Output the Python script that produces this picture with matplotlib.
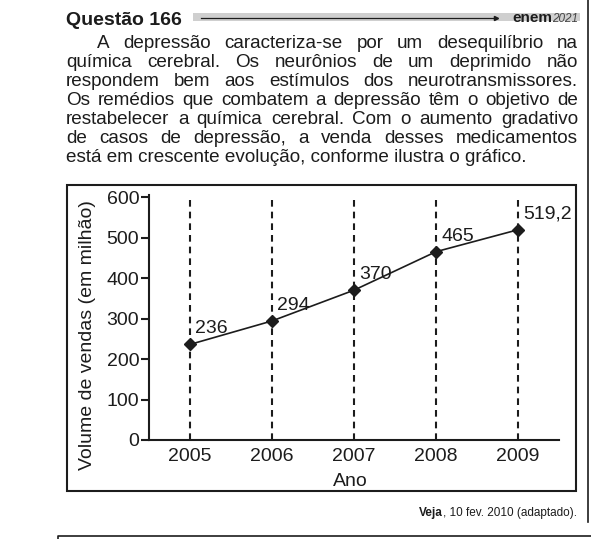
import matplotlib
matplotlib.use("Agg")
import matplotlib.pyplot as plt
from matplotlib.patches import Rectangle
from matplotlib.lines import Line2D

plt.rcParams['font.family'] = ['Liberation Sans', 'DejaVu Sans']

# -----------------------------------------------------------------------------
# Dados
# -----------------------------------------------------------------------------
anos = [2005, 2006, 2007, 2008, 2009]
vendas = [236, 294, 370, 465, 519.2]
rotulos = ["236", "294", "370", "465", "519,2"]
yticks = [0, 100, 200, 300, 400, 500, 600]

titulo = "Questão 166"
texto = [
    "A depressão caracteriza-se por um desequilíbrio na",
    "química cerebral. Os neurônios de um deprimido não",
    "respondem bem aos estímulos dos neurotransmissores.",
    "Os remédios que combatem a depressão têm o objetivo de",
    "restabelecer a química cerebral. Com o aumento gradativo",
    "de casos de depressão, a venda desses medicamentos",
    "está em crescente evolução, conforme ilustra o gráfico.",
]
fonte_bold = "Veja"
fonte_resto = ", 10 fev. 2010 (adaptado)."

INK = "#1c1c1c"
FS_TXT = 13.6
W, H = 591, 539
fig = plt.figure(figsize=(W / 100, H / 100), dpi=100)
renderer = fig.canvas.get_renderer()


def fx(px):
    return px / W


def fy(py):
    return 1 - py / H


def largura(s, **kw):
    t = fig.text(0, 0, s, **kw)
    w = t.get_window_extent(renderer).width
    t.remove()
    return w


# =========================
# Cabeçalho
# =========================
fig.text(fx(66), fy(25), titulo, fontsize=14, fontweight="bold",
         color=INK, va="baseline")
x_band = 66 + largura(titulo, fontsize=14, fontweight="bold") + 11
fig.patches.append(Rectangle((fx(x_band), fy(21)), fx(580) - fx(x_band), 8 / H,
                             transform=fig.transFigure, facecolor="#cfcfcf",
                             edgecolor="none"))
fig.lines.append(Line2D([fx(x_band + 8), fx(496)], [fy(18), fy(18)],
                        transform=fig.transFigure, color=INK, lw=0.9))
fig.lines.append(Line2D([fx(496)], [fy(18)], transform=fig.transFigure,
                        marker=">", ms=3, color=INK, lw=0))
w2021 = largura("2021", fontsize=8.5, fontstyle="italic")
fig.text(fx(578), fy(22), "2021", fontsize=8.5, fontstyle="italic",
         color="#444444", ha="right", va="baseline")
fig.text(fx(578 - w2021), fy(22), "enem", fontsize=11, fontweight="bold",
         color=INK, ha="right", va="baseline")

# =========================
# Texto justificado
# =========================
esq, dir_ = 66, 578
base0, passo = 48, 19.0
for i, linha in enumerate(texto):
    yb = base0 + i * passo
    x0 = esq + (31 if i == 0 else 0)
    if i == len(texto) - 1:
        fig.text(fx(x0), fy(yb), linha, fontsize=FS_TXT, color=INK, va="baseline")
        continue
    palavras = linha.split(" ")
    larg = [largura(p, fontsize=FS_TXT) for p in palavras]
    gap = (dir_ - x0 - sum(larg)) / (len(palavras) - 1)
    x = x0
    for p, w in zip(palavras, larg):
        fig.text(fx(x), fy(yb), p, fontsize=FS_TXT, color=INK, va="baseline")
        x += w + gap

# =========================
# Quadro do gráfico
# =========================
fig.patches.append(Rectangle((fx(67), fy(491)), (576 - 67) / W, (491 - 185) / H,
                             transform=fig.transFigure, fill=False,
                             edgecolor=INK, lw=1.5))

ax = fig.add_axes([fx(149), fy(440), (559 - 149) / W, (440 - 195) / H])
ax.set_xlim(2004.5, 2009.5)
ax.set_ylim(0, 605)
ax.patch.set_alpha(0)

ax.vlines(anos, 0, 605, colors=INK, linestyles=(0, (3.2, 2.4)), linewidth=1.5)
ax.plot(anos, vendas, color=INK, lw=1.2, marker="D", ms=6, zorder=3)
for x, y, r in zip(anos, vendas, rotulos):
    ax.annotate(r, (x, y), xytext=(5, 11), textcoords="offset pixels",
                fontsize=14, color=INK, ha="left", va="baseline")

for s in ["top", "right"]:
    ax.spines[s].set_visible(False)
for s in ["left", "bottom"]:
    ax.spines[s].set_linewidth(1.5)
    ax.spines[s].set_color(INK)

ax.set_xticks(anos)
ax.set_xticklabels([str(a) for a in anos])
ax.set_yticks(yticks)
ax.tick_params(axis="y", length=5.5, width=1.5, pad=1.5, labelsize=14,
               colors=INK)
ax.tick_params(axis="x", length=0, pad=5.5, labelsize=14, colors=INK)

ax.set_xlabel("Ano", fontsize=14, color=INK)
ax.xaxis.set_label_coords(0.49, -0.135)
ax.set_ylabel("Volume de vendas (em milhão)", fontsize=14, color=INK)
ax.yaxis.set_label_coords(-0.13, 0.43)

# =========================
# Fonte e linhas da página
# =========================
wresto = largura(fonte_resto, fontsize=8.5)
fig.text(fx(577), fy(516), fonte_resto, fontsize=8.5, color=INK,
         ha="right", va="baseline")
fig.text(fx(577 - wresto), fy(516), fonte_bold, fontsize=8.5,
         fontweight="bold", color=INK, ha="right", va="baseline")

fig.lines.append(Line2D([fx(588), fx(588)], [fy(0), fy(522)],
                        transform=fig.transFigure, color=INK, lw=1.2))
fig.lines.append(Line2D([fx(58), fx(58), fx(591)], [fy(539), fy(536), fy(536)],
                        transform=fig.transFigure, color=INK, lw=1.2))

fig.savefig("out.png", dpi=100)
